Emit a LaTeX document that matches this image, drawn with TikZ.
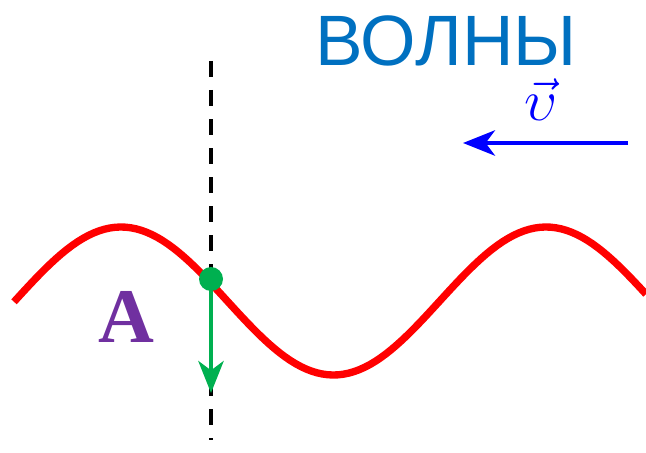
\RequirePackage{fix-cm}
\documentclass[tikz,border=0pt]{standalone}
\usepackage{amsmath}
\usepackage{fontspec}
\newfontfamily\titlefont{Liberation Sans}
\newfontfamily\labelfont{Liberation Serif}
\usetikzlibrary{arrows.meta}
\definecolor{titleblue}{HTML}{0070C0}
\definecolor{wavered}{HTML}{FF0000}
\definecolor{pointgreen}{HTML}{00B050}
\definecolor{labelpurple}{HTML}{7030A0}
\definecolor{speedblue}{HTML}{0000FF}
\begin{document}
\begin{tikzpicture}[x=0.75pt,y=-0.75pt,>={Stealth[length=24pt,width=19pt,inset=7pt]}]
\useasboundingbox (0,0) rectangle (646,453);
\node[titleblue,anchor=base,inner sep=0pt] (title) at (446,65){\fontsize{53.5}{53.5}\titlefont ВОЛНЫ};
\draw[wavered,line width=5.5pt,domain=14:646,samples=120] plot({\x},{301-74*cos(0.84706*(\x-121))});
\coordinate (dashtop) at (211,61);
\coordinate (dashbot) at (211,440);
\draw[black,line width=3pt,dash pattern=on 12pt off 9.75pt] (dashtop)--(dashbot);
\coordinate (pointA) at (211,279);
\coordinate (pointAend) at (211,393);
\draw[pointgreen,line width=3pt,->] (pointA)--(pointAend);
\fill[pointgreen] (pointA) circle (9pt);
\node[labelpurple,anchor=base,inner sep=0pt] (labelA) at (126,342){\fontsize{58}{58}\labelfont\bfseries A};
\coordinate (vstart) at (628,143);
\coordinate (vend) at (463,143);
\draw[speedblue,line width=3pt,->] (vstart)--(vend);
\node[speedblue,anchor=base,inner sep=0pt] (speed) at (541,120){\fontsize{44}{44}\selectfont$\vec{\upsilon}$};
\end{tikzpicture}
\end{document}
